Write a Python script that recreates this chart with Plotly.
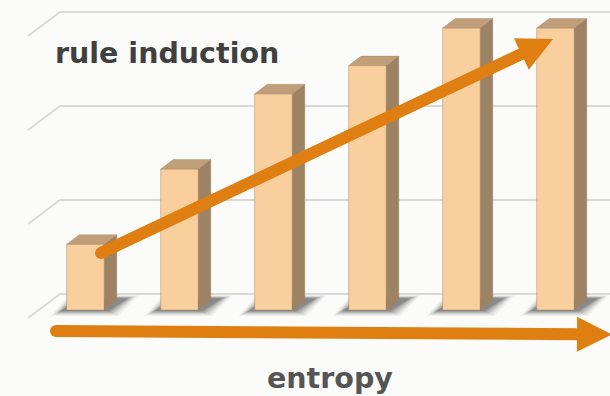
import plotly.graph_objects as go

# ---- data ----
categories = [0, 1, 2, 3, 4, 5]
values = [0.70, 1.50, 2.30, 2.60, 3.00, 3.00]
grid_levels = [0, 1, 2, 3]
title_text = "rule induction"
axis_text = "entropy"

# ---- styling ----
W, H = 610, 396
UNIT = 94.0            # pixels per axis unit (both axes)
X0_PX, Y0_PX = 85.5, 310.0   # pixel position of (x=0, y=0)
BAR_W = 0.40
DX, DY = 12.5 / UNIT, 9.5 / UNIT   # 3-D depth offset of each bar
FRONT = "#F8CF9D"
TOP = "#BF9E79"
SIDE = "#9D8263"
EDGE = "rgba(160,125,90,0.55)"
ORANGE = "#DF7F12"
GRID = "#D9D9D9"
BG = "#FBFBF9"


def X(px):
    return (px - X0_PX) / UNIT


def Y(py):
    return (Y0_PX - py) / UNIT


fig = go.Figure()

# front faces
fig.add_trace(go.Bar(
    x=categories, y=values, width=BAR_W,
    marker=dict(color=FRONT, line=dict(color=EDGE, width=0.8)),
    hoverinfo="skip",
))

# side and top faces
for c, v in zip(categories, values):
    xr = c + BAR_W / 2
    xl = c - BAR_W / 2
    fig.add_trace(go.Scatter(
        x=[xr, xr + DX, xr + DX, xr, xr], y=[0, DY, v + DY, v, 0],
        fill="toself", fillcolor=SIDE, mode="lines",
        line=dict(color=EDGE, width=0.6), hoverinfo="skip",
    ))
    fig.add_trace(go.Scatter(
        x=[xl, xr, xr + DX, xl + DX, xl], y=[v, v, v + DY, v + DY, v],
        fill="toself", fillcolor=TOP, mode="lines",
        line=dict(color=EDGE, width=0.6), hoverinfo="skip",
    ))

shapes = []

# back wall grid lines and left wall diagonals
for k in grid_levels:
    yb = 294 - UNIT * k
    shapes.append(dict(type="line", layer="below", x0=X(60), x1=X(620),
                       y0=Y(yb), y1=Y(yb), line=dict(color=GRID, width=2)))
    shapes.append(dict(type="line", layer="below", x0=X(28), x1=X(60),
                       y0=Y(yb + 24), y1=Y(yb), line=dict(color=GRID, width=2)))

# soft floor shadows behind each bar (stacked translucent layers fake a blur)
for c in categories:
    xl = X0_PX + (c - BAR_W / 2) * UNIT
    xr = X0_PX + (c + BAR_W / 2) * UNIT
    for grow, op in [(6, 0.05), (4, 0.07), (2, 0.10), (0, 0.13), (-2, 0.16), (-4, 0.18)]:
        pts = [(xl - 10 - grow, 313 + grow * 0.5), (xr + 8 + grow, 313 + grow * 0.5),
               (xr + 28 + grow, 297 - grow * 0.3), (xl + 8 - grow, 297 - grow * 0.3)]
        path = "M " + " L ".join(f"{X(a)},{Y(b)}" for a, b in pts) + " Z"
        shapes.append(dict(type="path", layer="below", path=path,
                           fillcolor=f"rgba(35,35,35,{op})", line=dict(width=0)))


def arrow(start, tip, head_len, head_w, lw):
    sx, sy = start
    tx, ty = tip
    L = ((tx - sx) ** 2 + (ty - sy) ** 2) ** 0.5
    ux, uy = (tx - sx) / L, (ty - sy) / L
    nx, ny = -uy, ux
    bx, by = tx - ux * head_len, ty - uy * head_len
    out = [dict(type="line", layer="above", x0=X(sx), y0=Y(sy),
                x1=X(bx + ux * 2), y1=Y(by + uy * 2),
                line=dict(color=ORANGE, width=lw))]
    r = lw / 2
    out.append(dict(type="circle", layer="above", x0=X(sx - r), x1=X(sx + r),
                    y0=Y(sy + r), y1=Y(sy - r), fillcolor=ORANGE, line=dict(width=0)))
    pts = [(bx + nx * head_w / 2, by + ny * head_w / 2), (tx, ty),
           (bx - nx * head_w / 2, by - ny * head_w / 2)]
    path = "M " + " L ".join(f"{X(a)},{Y(b)}" for a, b in pts) + " Z"
    out.append(dict(type="path", layer="above", path=path, fillcolor=ORANGE,
                    line=dict(width=0)))
    return out


shapes += arrow((101, 253), (553, 39), 35, 35, 12)
shapes += arrow((56, 331), (612, 334.5), 35, 35, 12)

fig.update_layout(
    width=W, height=H,
    margin=dict(l=0, r=0, t=0, b=0),
    paper_bgcolor=BG, plot_bgcolor=BG,
    showlegend=False,
    shapes=shapes,
    xaxis=dict(range=[X(0), X(W)], visible=False, fixedrange=True),
    yaxis=dict(range=[Y(H), Y(0)], visible=False, fixedrange=True),
    annotations=[
        dict(text=f"<b>{title_text}</b>", xref="paper", yref="paper",
             x=53 / W, y=1 - 54 / H, xanchor="left", yanchor="middle",
             showarrow=False, font=dict(family="DejaVu Sans", size=28.5, color="#404040")),
        dict(text=f"<b>{axis_text}</b>", xref="paper", yref="paper",
             x=330 / W, y=1 - 378 / H, xanchor="center", yanchor="middle",
             showarrow=False, font=dict(family="DejaVu Sans", size=28.5, color="#555555")),
    ],
)

fig.write_html("out.html")
